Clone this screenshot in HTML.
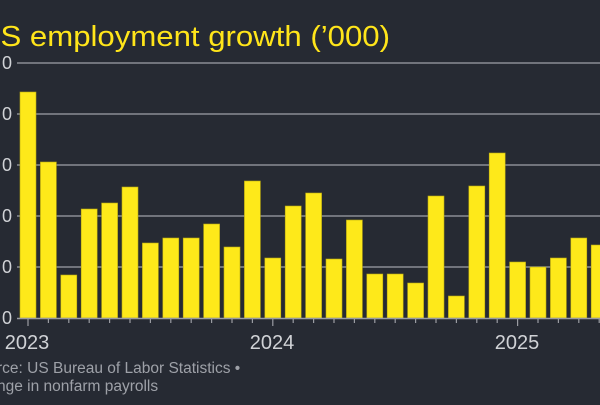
<!DOCTYPE html>
<html><head><style>
body{margin:0;width:600px;height:400px;background:#262a33;overflow:hidden;font-family:"Liberation Sans",sans-serif;}
</style></head><body>
<svg width="600" height="400" xmlns="http://www.w3.org/2000/svg">
<rect width="600" height="400" fill="#262a33"/>
<text x="-22" y="46" font-size="29" fill="#ffe51a" font-family="Liberation Sans, sans-serif" textLength="412" lengthAdjust="spacingAndGlyphs">US employment growth (’000)</text>
<g stroke="#8a8d94" stroke-width="1.5">
<line x1="17" x2="600" y1="63" y2="63"/>
<line x1="17" x2="600" y1="114" y2="114"/>
<line x1="17" x2="600" y1="165" y2="165"/>
<line x1="17" x2="600" y1="216" y2="216"/>
<line x1="17" x2="600" y1="267" y2="267"/>
</g>
<g font-size="18" fill="#d0d2d6" text-anchor="end">
<text x="12" y="69">0</text><text x="12" y="120">0</text><text x="12" y="171">0</text><text x="12" y="222">0</text><text x="12" y="273">0</text><text x="12" y="324">0</text>
</g>
<g fill="#fee91a" stroke="#b8a812" stroke-width="0.6" id="bars"></g>
<line x1="17" x2="600" y1="318.5" y2="318.5" stroke="#9a9ca2" stroke-width="1.5"/>
<g stroke="#9a9ca2" stroke-width="1.2" id="ticks"></g>
<g font-size="20" fill="#d0d2d6" text-anchor="middle">
<text x="27" y="349">2023</text><text x="272" y="349">2024</text><text x="517" y="349">2025</text>
</g>
<g font-size="15.5" fill="#9ea1a8">
<text x="-3" y="373">rce: US Bureau of Labor Statistics •</text>
<text x="-3" y="391">nge in nonfarm payrolls</text>
</g>
<script>
var tops=[92,162,275,209,203,187,243,238,238,224,247,181,258,206,193,259,220,274,274,283,196,296,186,153,262,267,258,238,245];
var b=document.getElementById('bars'),t=document.getElementById('ticks'),ns='http://www.w3.org/2000/svg';
tops.forEach(function(y,i){var x=20+20.4*i;var r=document.createElementNS(ns,'rect');r.setAttribute('x',x);r.setAttribute('y',y);r.setAttribute('width',16);r.setAttribute('height',318-y);b.appendChild(r);
var l=document.createElementNS(ns,'line');var cx=x+8;l.setAttribute('x1',cx);l.setAttribute('x2',cx);l.setAttribute('y1',319);l.setAttribute('y2',(i%12==0)?326:323);t.appendChild(l);});
</script>
</svg>
</body></html>
